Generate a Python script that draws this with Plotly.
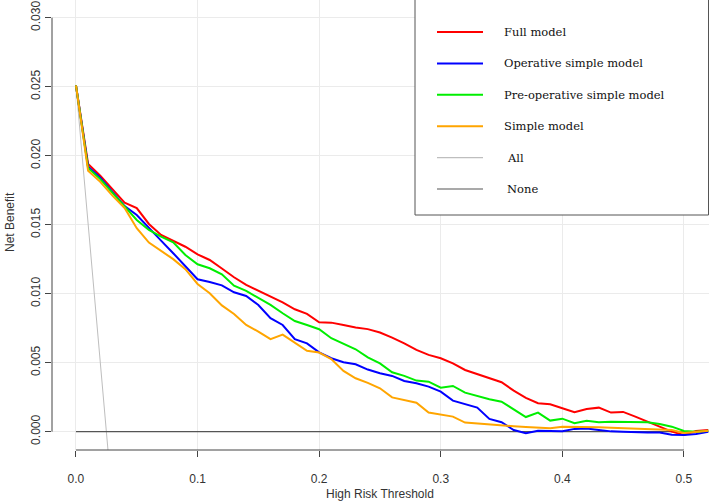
import plotly.graph_objects as go

thresholds = [round(i * 0.01, 2) for i in range(53)]

full_model = [0.0251, 0.0194, 0.01855, 0.0176, 0.0166, 0.0162, 0.01505, 0.01425, 0.0138, 0.0134,
              0.01285, 0.01244, 0.01182, 0.01119, 0.01063, 0.0102, 0.00978, 0.00937, 0.00887, 0.00853,
              0.00793, 0.0079, 0.00773, 0.00754, 0.00743, 0.00718, 0.00681, 0.0064, 0.00592, 0.00556,
              0.00532, 0.00495, 0.00447, 0.00418, 0.00384, 0.00358, 0.00297, 0.00245, 0.00206, 0.00198,
              0.0017, 0.00141, 0.00164, 0.00174, 0.00138, 0.00143, 0.00109, 0.00072, 0.00036, 0.0,
              -0.00024, 0.00005, 0.00012]

operative_simple = [0.0251, 0.0192, 0.0184, 0.0174, 0.01635, 0.0157, 0.01474, 0.01384, 0.01293, 0.01196,
                    0.01104, 0.01085, 0.0106, 0.0101, 0.00983, 0.00918, 0.00822, 0.00773, 0.0067, 0.0064,
                    0.00575, 0.00532, 0.00503, 0.00488, 0.0045, 0.00423, 0.00404, 0.00367, 0.00351, 0.00326,
                    0.0029, 0.00225, 0.00198, 0.00174, 0.00092, 0.00068, 0.00012, -0.00012, 0.00007, 0.00005,
                    0.00003, 0.0002, 0.00022, 0.00012, 0.00002, 0.0, -0.00005, -0.00007, -0.00007, -0.00022,
                    -0.00024, -0.00017, 0.0]

preoperative_simple = [0.0251, 0.0191, 0.0183, 0.01732, 0.0163, 0.01534, 0.01462, 0.01413, 0.01372, 0.0128,
                       0.01213, 0.01184, 0.0114, 0.01058, 0.0102, 0.00967, 0.00918, 0.00858, 0.00802, 0.00773,
                       0.00742, 0.00677, 0.00636, 0.00597, 0.00538, 0.00495, 0.0043, 0.00404, 0.0037, 0.00362,
                       0.00319, 0.00331, 0.00283, 0.00259, 0.00235, 0.00217, 0.00162, 0.00106, 0.00138, 0.0008,
                       0.00094, 0.00061, 0.00078, 0.00068, 0.00072, 0.0007, 0.00065, 0.00068, 0.00056, 0.00036,
                       0.00005, 0.0, 0.00007]

simple_model = [0.0251, 0.0189, 0.0181, 0.0171, 0.01621, 0.01474, 0.0137, 0.0131, 0.0125, 0.01177,
                0.0107, 0.01003, 0.00915, 0.00853, 0.00773, 0.00725, 0.0067, 0.00703, 0.00647, 0.00586,
                0.00573, 0.00526, 0.0044, 0.00387, 0.00353, 0.00314, 0.00248, 0.0023, 0.0021, 0.00138,
                0.00123, 0.00109, 0.00066, 0.00058, 0.00051, 0.00043, 0.00039, 0.00034, 0.00032, 0.00025,
                0.00036, 0.00036, 0.00034, 0.00032, 0.00029, 0.00025, 0.0002, 0.00017, 0.00015, 0.00012,
                -0.0001, 0.0, 0.00007]

all_x = [0.0, 0.01, 0.02, 0.03]
all_y = [0.0251, 0.0152, 0.0051, -0.0050]
none_x = [0.0, 0.52]
none_y = [0.0, 0.0]

x_ticks = [0.0, 0.1, 0.2, 0.3, 0.4, 0.5]
x_tick_labels = ["0.0", "0.1", "0.2", "0.3", "0.4", "0.5"]
y_ticks = [0.0, 0.005, 0.010, 0.015, 0.020, 0.025, 0.030]
y_tick_labels = ["0.000", "0.005", "0.010", "0.015", "0.020", "0.025", "0.030"]

legend_names = ["Full model", "Operative simple model", "Pre-operative simple model",
                "Simple model", "All", "None"]
legend_colors = ["#FF0000", "#0000FF", "#00EE00", "#FFA500", "#BEBEBE", "#555555"]

W, H = 709, 503
ML, MR, MT, MB = 52, 0, 0, 53
PW, PH = W - ML - MR, H - MT - MB


def px_x(p):
    return (p - ML) / PW


def px_y(p):
    return (H - MB - p) / PH


fig = go.Figure()
fig.add_trace(go.Scatter(x=all_x, y=all_y, mode="lines", name="All",
                         line=dict(color=legend_colors[4], width=1), showlegend=False))
fig.add_trace(go.Scatter(x=none_x, y=none_y, mode="lines", name="None",
                         line=dict(color=legend_colors[5], width=1.2), showlegend=False))
series = [full_model, operative_simple, preoperative_simple, simple_model]
for name, vals, col in zip(legend_names[:4], series, legend_colors[:4]):
    fig.add_trace(go.Scatter(x=thresholds, y=vals, mode="lines", name=name,
                             line=dict(color=col, width=2), showlegend=False))

axis_font = dict(family="Liberation Sans, Arial, sans-serif", size=12, color="#333333")
axis_col = "#444444"

fig.update_xaxes(range=[-0.0197, 0.5206], tickvals=x_ticks, ticktext=x_tick_labels,
                 showgrid=True, gridcolor="#EBEBEB", gridwidth=1, zeroline=False,
                 showline=False, ticks="outside", ticklen=6, tickcolor=axis_col,
                 tickfont=axis_font, ticklabelstandoff=12)
fig.update_yaxes(range=[-0.00133, 0.03128], tickvals=y_ticks, ticktext=y_tick_labels,
                 showgrid=True, gridcolor="#EBEBEB", gridwidth=1, zeroline=False,
                 showline=False, ticks="outside", ticklen=6, tickcolor=axis_col,
                 tickfont=axis_font, tickangle=-90)

shapes = [
    # y axis line from 0.000 to 0.030
    dict(type="line", xref="paper", yref="y", x0=0, x1=0, y0=y_ticks[0], y1=y_ticks[-1],
         line=dict(color=axis_col, width=1)),
    # x axis line from 0.0 to 0.5
    dict(type="line", xref="x", yref="paper", x0=x_ticks[0], x1=x_ticks[-1], y0=0, y1=0,
         line=dict(color=axis_col, width=1)),
    # legend box
    dict(type="rect", xref="paper", yref="paper", x0=px_x(415), x1=px_x(708.5),
         y0=px_y(215), y1=px_y(-2), line=dict(color="#555555", width=1), fillcolor="white",
         layer="above"),
]

annotations = [
    dict(text="Net Benefit", xref="paper", yref="paper", x=px_x(10), y=px_y(222),
         showarrow=False, textangle=-90, font=axis_font, xanchor="center", yanchor="middle"),
    dict(text="High Risk Threshold", xref="x", yref="paper", x=0.25, y=px_y(494),
         showarrow=False, font=axis_font, xanchor="center", yanchor="middle"),
]

row_y = [32, 63.4, 94.8, 126.2, 157.6, 189]
text_x = [502, 502, 502, 502, 505, 505]
for i, name in enumerate(legend_names):
    shapes.append(dict(type="line", xref="paper", yref="paper", x0=px_x(437), x1=px_x(483),
                       y0=px_y(row_y[i]), y1=px_y(row_y[i]),
                       line=dict(color=legend_colors[i], width=2 if i < 4 else 1.2),
                       layer="above"))
    annotations.append(dict(text=name, xref="paper", yref="paper", x=px_x(text_x[i]),
                            y=px_y(row_y[i]), showarrow=False, xanchor="left", yanchor="middle",
                            font=dict(family="DejaVu Serif, serif", size=11.5, color="#111111")))

fig.update_layout(width=W, height=H, margin=dict(l=ML, r=MR, t=MT, b=MB),
                  plot_bgcolor="white", paper_bgcolor="white",
                  shapes=shapes, annotations=annotations, showlegend=False)

fig.write_html("out.html", config={"displayModeBar": False},
               post_script="document.body.style.margin='0px';document.body.style.overflow='hidden';")
